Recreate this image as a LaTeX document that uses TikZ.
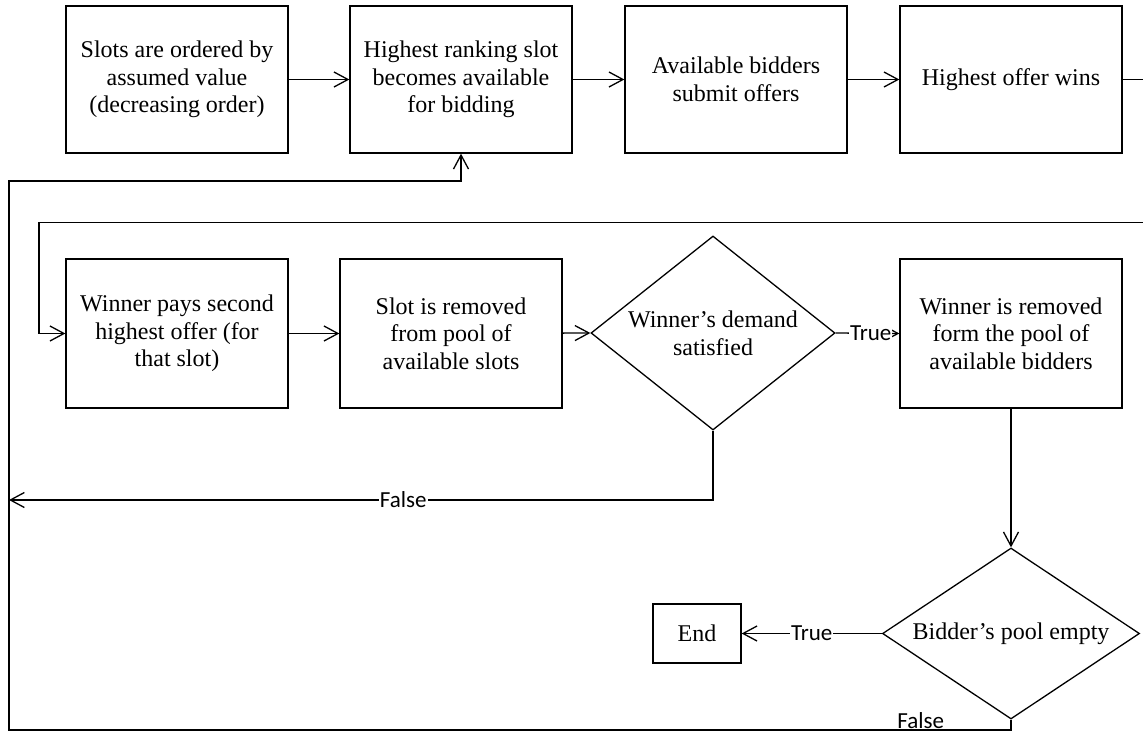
\documentclass[tikz,border=0pt]{standalone}
\usepackage{fontspec}
\setmainfont{Liberation Serif}
\newfontfamily\labelfont{Carlito}
\usetikzlibrary{shapes.geometric,arrows.meta}

\begin{document}
\begin{tikzpicture}[x=1pt,y=-1pt,
  line width=1.3pt,
  proc/.style={draw, rectangle, minimum width=222pt, minimum height=148pt,
    align=center, inner sep=0pt, font=\fontsize{24}{27.6}\selectfont},
  dec/.style={draw, diamond, align=center, inner sep=0pt,
    font=\fontsize{24}{27.6}\selectfont},
  arr/.style={-{Straight Barb[length=14pt,width=15pt]}},
  lbl/.style={font=\labelfont\fontsize{23}{26}\selectfont, fill=white, inner sep=1pt}]

\useasboundingbox (0,0) rectangle (1143,731);

% top row
\node[proc, minimum height=147pt] (b1) at (177,79.5) {Slots are ordered by\\assumed value\\(decreasing order)};
\node[proc, minimum height=147pt] (b2) at (461,79.5) {Highest ranking slot\\becomes available\\for bidding};
\node[proc, minimum height=147pt] (b3) at (736,79.5) {Available bidders\\submit offers};
\node[proc, minimum height=147pt] (b4) at (1011,79.5) {Highest offer wins};

% middle row
\node[proc, minimum height=149pt] (m1) at (177,333.5) {Winner pays second\\highest offer (for\\that slot)};
\node[proc, minimum height=149pt] (m2) at (451,333.5) {Slot is removed\\from pool of\\available slots};
\node[dec, minimum width=244pt, minimum height=194pt, aspect=1.26] (d1) at (713,333) {Winner’s demand\\satisfied};
\node[proc, minimum height=149pt] (m4) at (1011,333.5) {Winner is removed\\form the pool of\\available bidders};

% bottom row
\node[dec, minimum width=257pt, minimum height=171pt, aspect=1.5] (d2) at (1011,633.5) {Bidder’s pool empty};
\node[draw, rectangle, minimum width=88pt, minimum height=59pt, inner sep=0pt,
  font=\fontsize{24}{27.6}\selectfont] (end) at (697,633.5) {End};

% free ends of the loop lines
\coordinate (outR) at (1143,79.5);
\coordinate (inR) at (1143,222.5);
\coordinate (falseEnd) at (9,500);

% connectors
\draw[arr] (b1) -- (b2);
\draw[arr] (b2) -- (b3);
\draw[arr] (b3) -- (b4);
\draw (b4.east) -- (outR);
\draw[arr] (inR) -- (39,222.5) |- (m1.west);
\draw[arr] (m1) -- (m2);
\draw[arr] (m2) -- (d1.west);
\draw[arr] (d1.east) -- node[lbl, pos=0.55] {True} (m4.west);
\draw[arr] (d1.south) |- node[lbl, pos=0.72] {False} (falseEnd);
\draw[arr] (m4.south) -- (d2.north);
\draw[arr] (d2.west) -- node[lbl, pos=0.5] {True} (end.east);
\draw[arr] (d2.south) |- node[lbl, pos=0.545, anchor=base, text depth=0pt,
    inner ysep=0pt, yshift=2pt] {False} (9,730)
  -- (9,181) -| (b2.south);

\end{tikzpicture}
\end{document}
